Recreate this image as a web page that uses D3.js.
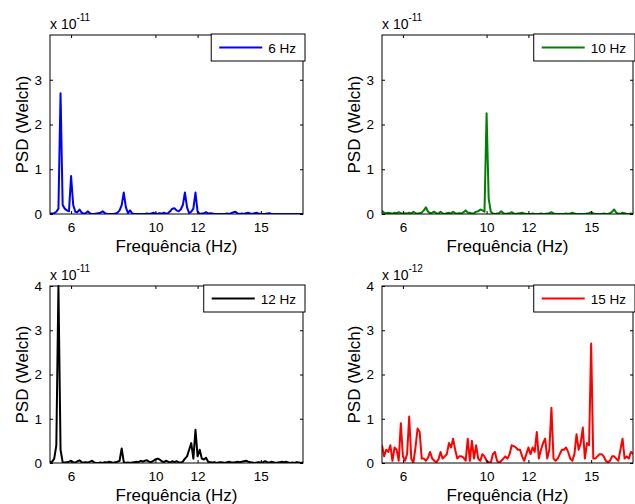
<!DOCTYPE html>
<html>
<head>
<meta charset="utf-8">
<script src="https://cdn.jsdelivr.net/npm/d3@7"></script>
<style>
  html, body { margin: 0; padding: 0; background: #fff; }
  svg { display: block; font-family: "Liberation Sans", Arial, sans-serif; }
</style>
</head>
<body>
<svg id="chart" width="635" height="504"></svg>
<script>
// Frequency bins of the Welch estimate (Hz)
const freqStart = 5, freqStep = 0.1, freqCount = 121;
const freqs = d3.range(freqCount).map(i => +(freqStart + i * freqStep).toFixed(2));

// Tick values
const xTicks = [6, 10, 12, 15];
const yTicksTop = [0, 1, 2, 3];
const yTicksBottom = [0, 1, 2, 3, 4];

// PSD, stimulus 6 Hz (x 1e-11)
const psd6 = [
  0.01,0.01,0.02,0.05,0.12,2.7,0.2,0.12,0.08,0.06,
  0.85,0.2,0.05,0.04,0.1,0.03,0.01,0.02,0.06,0.01,
  0.0,0.0,0.01,0.02,0.03,0.06,0.02,0.0,0.0,0.0,
  0.0,0.01,0.03,0.08,0.2,0.48,0.15,0.02,0.08,0.01,
  0.0,0.0,0.0,0.0,0.0,0.0,0.01,0.0,0.01,0.03,
  0.01,0.0,0.02,0.01,0.03,0.01,0.02,0.06,0.12,0.13,
  0.08,0.06,0.1,0.2,0.48,0.15,0.02,0.05,0.12,0.48,
  0.05,0.0,0.01,0.02,0.04,0.01,0.02,0.01,0.0,0.0,
  0.0,0.0,0.0,0.0,0.01,0.0,0.02,0.04,0.05,0.01,
  0.0,0.01,0.0,0.02,0.03,0.01,0.0,0.02,0.03,0.01,
  0.0,0.0,0.0,0.01,0.02,0.0,0.0,0.0,0.0,0.0,
  0.0,0.0,0.0,0.0,0.0,0.0,0.0,0.0,0.0,0.0,
  0.0
];

// PSD, stimulus 10 Hz (x 1e-11)
const psd10 = [
  0.07,0.03,0.02,0.03,0.02,0.01,0.03,0.02,0.04,0.02,
  0.01,0.02,0.01,0.03,0.01,0.05,0.02,0.01,0.02,0.03,
  0.08,0.15,0.05,0.02,0.03,0.05,0.02,0.01,0.05,0.01,
  0.0,0.02,0.03,0.01,0.05,0.02,0.01,0.02,0.01,0.04,
  0.08,0.03,0.03,0.01,0.02,0.05,0.06,0.1,0.08,0.05,
  2.25,0.35,0.05,0.01,0.0,0.01,0.02,0.06,0.02,0.0,
  0.01,0.02,0.04,0.01,0.0,0.01,0.02,0.03,0.01,0.0,
  0.0,0.0,0.01,0.0,0.0,0.0,0.01,0.0,0.0,0.01,
  0.02,0.04,0.01,0.0,0.0,0.0,0.0,0.0,0.01,0.0,
  0.01,0.03,0.01,0.0,0.0,0.0,0.0,0.0,0.01,0.02,
  0.04,0.01,0.0,0.0,0.0,0.0,0.01,0.0,0.0,0.02,
  0.05,0.1,0.03,0.01,0.0,0.03,0.02,0.0,0.0,0.01,
  0.0
];

// PSD, stimulus 12 Hz (x 1e-11)
const psd12 = [
  0.02,0.03,0.1,0.4,4.0,0.3,0.02,0.01,0.02,0.03,
  0.05,0.02,0.01,0.04,0.06,0.02,0.01,0.02,0.01,0.03,
  0.05,0.01,0.0,0.0,0.01,0.0,0.02,0.01,0.03,0.02,
  0.0,0.02,0.03,0.05,0.33,0.02,0.0,0.01,0.0,0.01,
  0.02,0.03,0.02,0.05,0.03,0.05,0.06,0.03,0.02,0.05,
  0.08,0.1,0.08,0.04,0.02,0.05,0.03,0.01,0.04,0.02,
  0.04,0.02,0.01,0.03,0.1,0.15,0.3,0.45,0.1,0.75,
  0.15,0.3,0.1,0.08,0.12,0.03,0.02,0.01,0.02,0.0,
  0.01,0.02,0.01,0.0,0.02,0.03,0.01,0.01,0.02,0.03,
  0.02,0.03,0.04,0.05,0.03,0.02,0.01,0.0,0.01,0.02,
  0.01,0.02,0.04,0.02,0.01,0.03,0.02,0.0,0.01,0.02,
  0.03,0.02,0.03,0.01,0.0,0.01,0.0,0.02,0.01,0.0,
  0.01
];

// PSD, stimulus 15 Hz (x 1e-12)
const psd15 = [
  0.4,0.15,0.3,0.25,0.4,0.05,0.35,0.3,0.05,0.9,
  0.15,0.05,0.2,1.05,0.1,0.0,0.35,0.78,0.7,0.1,
  0.1,0.05,0.12,0.25,0.1,0.05,0.02,0.08,0.25,0.1,
  0.15,0.2,0.45,0.35,0.55,0.3,0.1,0.15,0.15,0.12,
  0.05,0.55,0.05,0.5,0.1,0.4,0.1,0.05,0.2,0.15,
  0.05,0.02,0.0,0.2,0.25,0.05,0.0,0.05,0.1,0.15,
  0.1,0.2,0.4,0.38,0.35,0.3,0.3,0.15,0.05,0.2,
  0.35,0.2,0.35,0.25,0.7,0.1,0.3,0.45,0.55,0.1,
  0.3,1.25,0.1,0.05,0.1,0.2,0.3,0.3,0.35,0.25,
  0.1,0.05,0.2,0.65,0.3,0.45,0.8,0.1,0.45,0.4,
  2.7,0.1,0.1,0.15,0.2,0.2,0.15,0.05,0.02,0.05,
  0.15,0.15,0.1,0.05,0.3,0.55,0.1,0.15,0.1,0.25,
  0.2
];

const panels = [
  { name: "6 Hz",  values: psd6,  color: "#0000ff", exp: "-11", yTicks: yTicksTop,    box: { x: 50,  y: 35,  w: 253, h: 179 } },
  { name: "10 Hz", values: psd10, color: "#008000", exp: "-11", yTicks: yTicksTop,    box: { x: 382, y: 35,  w: 251, h: 179 } },
  { name: "12 Hz", values: psd12, color: "#000000", exp: "-11", yTicks: yTicksBottom, box: { x: 50,  y: 286, w: 253, h: 177 } },
  { name: "15 Hz", values: psd15, color: "#ff0000", exp: "-12", yTicks: yTicksBottom, box: { x: 382, y: 286, w: 251, h: 177 } }
];

const svg = d3.select("#chart");
const tickFont = 13.5, labelFont = 17, tickLen = 3;
const fontFamily = '"Liberation Sans", Arial, sans-serif';

panels.forEach((p, k) => {
  const b = p.box;
  const x = d3.scaleLinear().domain([5, 17]).range([b.x, b.x + b.w]);
  const y = d3.scaleLinear().domain([0, 4]).range([b.y + b.h, b.y]);
  const g = svg.append("g");

  const clipId = "clip" + k;
  svg.append("clipPath").attr("id", clipId)
    .append("rect").attr("x", b.x).attr("y", b.y - 1).attr("width", b.w).attr("height", b.h + 1);

  // data line
  const line = d3.line().x((d, i) => x(freqs[i])).y(d => y(d));
  g.append("path")
    .datum(p.values)
    .attr("clip-path", `url(#${clipId})`)
    .attr("fill", "none")
    .attr("stroke", p.color)
    .attr("stroke-width", 2)
    .attr("stroke-linejoin", "round")
    .attr("d", line);

  // axes with inward ticks on all four sides
  const fmt = d3.format("d");
  const bottom = d3.axisBottom(x).tickValues(xTicks).tickFormat(fmt).tickSizeInner(-tickLen).tickSizeOuter(0).tickPadding(8);
  const top = d3.axisTop(x).tickValues(xTicks).tickSizeInner(-tickLen).tickSizeOuter(0).tickFormat("");
  const left = d3.axisLeft(y).tickValues(p.yTicks).tickFormat(fmt).tickSizeInner(-tickLen).tickSizeOuter(0).tickPadding(8);
  const right = d3.axisRight(y).tickValues(p.yTicks).tickSizeInner(-tickLen).tickSizeOuter(0).tickFormat("");

  const axes = [
    [bottom, `translate(0,${b.y + b.h})`],
    [top, `translate(0,${b.y})`],
    [left, `translate(${b.x},0)`],
    [right, `translate(${b.x + b.w},0)`]
  ];
  axes.forEach(([ax, tr]) => {
    const a = g.append("g").attr("transform", tr).call(ax);
    a.select(".domain").remove();
    a.selectAll("line").attr("stroke", "#000").attr("stroke-width", 1);
    a.selectAll("text").attr("fill", "#000").style("font-size", tickFont + "px")
      .style("font-family", fontFamily);
  });

  // frame
  g.append("rect")
    .attr("x", b.x).attr("y", b.y).attr("width", b.w).attr("height", b.h)
    .attr("fill", "none").attr("stroke", "#000").attr("stroke-width", 1);

  // scale factor "x 10^exp"
  const sf = g.append("text")
    .attr("x", b.x).attr("y", b.y - 6)
    .style("font-size", "14px").attr("fill", "#000");
  sf.append("tspan").text("x 10");
  sf.append("tspan").attr("dy", -8).style("font-size", "10px").text(p.exp);

  // axis labels
  g.append("text")
    .attr("x", b.x + b.w / 2).attr("y", b.y + b.h + 38)
    .attr("text-anchor", "middle")
    .style("font-size", labelFont + "px").attr("fill", "#000")
    .text("Frequência (Hz)");
  g.append("text")
    .attr("transform", `translate(${b.x - 22},${b.y + b.h / 2}) rotate(-90)`)
    .attr("text-anchor", "middle")
    .style("font-size", labelFont + "px").attr("fill", "#000")
    .text("PSD (Welch)");

  // legend, anchored to the upper right corner
  const leg = g.append("g");
  const box = leg.append("rect");
  const swatch = leg.append("line");
  const lt = leg.append("text")
    .style("font-size", tickFont + "px").attr("fill", "#000")
    .text(p.name);
  const tw = lt.node().getComputedTextLength();
  const lw = 8 + 43 + 6 + tw + 9, lh = 27;
  const lx = b.x + b.w + 2 - lw, ly = b.y - 1;
  box.attr("x", lx).attr("y", ly).attr("width", lw).attr("height", lh)
    .attr("fill", "#fff").attr("stroke", "#000").attr("stroke-width", 1);
  swatch.attr("x1", lx + 8).attr("x2", lx + 51)
    .attr("y1", ly + lh / 2).attr("y2", ly + lh / 2)
    .attr("stroke", p.color).attr("stroke-width", 2);
  lt.attr("x", lx + 57).attr("y", ly + lh / 2 + 5);
});
</script>
</body>
</html>
